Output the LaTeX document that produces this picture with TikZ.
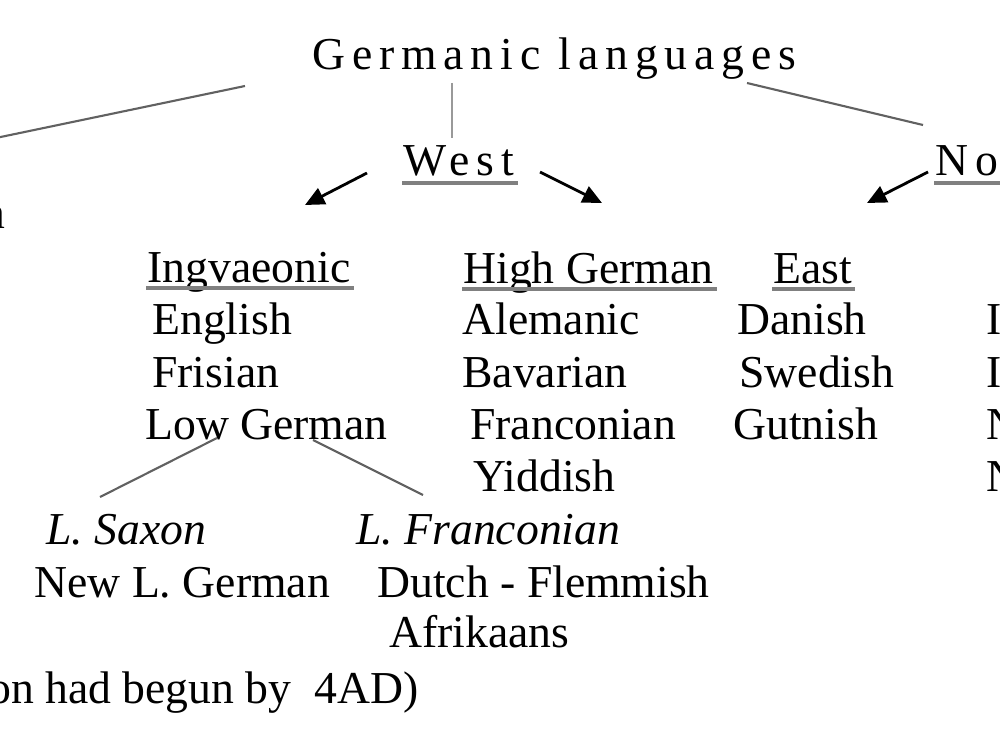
\documentclass[tikz,border=0pt]{standalone}
\usepackage{fontspec}
\setmainfont{Liberation Serif}
\newfontfamily\spaced[LetterSpace=15]{Liberation Serif}
\usetikzlibrary{calc,arrows.meta}

\begin{document}
\begin{tikzpicture}[x=0.02cm,y=-0.02cm]
        \useasboundingbox (0,0) rectangle (1000,750);
        \clip (0,0) rectangle (1000,750);
        \tikzstyle{every node}=[inner sep=0pt, anchor=base west, font=\fontsize{26}{30}\selectfont]
        \tikzstyle{spread}=[font=\fontsize{26}{30}\spaced]
        \tikzstyle{slant}=[font=\fontsize{26}{30}\selectfont\itshape]
        \tikzstyle{link}=[draw=black!62, line width=1.2pt]
        \tikzstyle{uline}=[draw=black!50, line width=1.8pt]
        \tikzstyle{arr}=[draw=black, line width=1.6pt, -{Triangle[length=11pt,width=10pt]}]

        \node[spread] (1) at (312,70) {Germanic languages};
        \node[spread] (2) at (403,175) {West};
        \node[spread] (3) at (935,175) {No};
        \node[anchor=base east] (4) at (6,228) {n};
        \coordinate (0) at (-100,158);

        \node (11) at (147,282) {Ingvaeonic};
        \node (12) at (463,283) {High German};
        \node (13) at (773,283) {East};

        \node (21) at ($(11.base west)+(5,52)$) {English};
        \node (22) at ($(21.base west)+(0,53)$) {Frisian};
        \node (23) at ($(22.base west)+(-7,52)$) {Low German};

        \node (31) at ($(12.base west)+(-1,51)$) {Alemanic};
        \node (32) at ($(31.base west)+(0,53)$) {Bavarian};
        \node (33) at ($(32.base west)+(8,52)$) {Franconian};
        \node (34) at ($(33.base west)+(3,52)$) {Yiddish};

        \node (41) at ($(13.base west)+(-36,51)$) {Danish};
        \node (42) at ($(41.base west)+(2,53)$) {Swedish};
        \node (43) at ($(42.base west)+(-6,52)$) {Gutnish};

        \node (51) at (986,334) {I};
        \node (52) at (986,387) {I};
        \node (53) at (986,439) {N};
        \node (54) at (986,491) {N};

        \node[slant] (61) at (46,544) {L. Saxon};
        \node[slant] (62) at (356,544) {L. Franconian};
        \node (63) at ($(61.base west)+(-12,53)$) {New L. German};
        \node (64) at ($(62.base west)+(21,53)$) {Dutch - Flemmish};
        \node (65) at ($(64.base west)+(12,50)$) {Afrikaans};
        \node (7) at (-12,703) {on had begun by\ \ 4AD)};

        \draw[link] ($(1.base west)+(-67,16)$) to (0);
        \draw[link, draw=black!40] ($(1.base west)+(140,13)$) to ($(2.base west)+(49,-37)$);
        \draw[link] ($(1.base west)+(435,13)$) to ($(3.base west)+(-12,-50)$);

        \draw[arr] ($(2.base west)+(-36,-2)$) to ($(11.base west)+(158,-77)$);
        \draw[arr] ($(2.base west)+(137,-3)$) to ($(12.base west)+(139,-80)$);
        \draw[arr] ($(3.base west)+(-7,-3)$) to ($(13.base west)+(94,-80)$);

        \draw[link] ($(23.base west)+(72,-1)$) to ($(61.base west)+(54,-47)$);
        \draw[link] ($(23.base west)+(168,1)$) to ($(62.base west)+(67,-49)$);

        \foreach \n in {2,3} \draw[uline] ($(\n.base west)+(-1,8)$) -- ($(\n.base east)+(4,8)$);
        \foreach \n in {11,12,13} \draw[uline] ($(\n.base west)+(-1,6)$) -- ($(\n.base east)+(3,6)$);
    \end{tikzpicture}
\end{document}
